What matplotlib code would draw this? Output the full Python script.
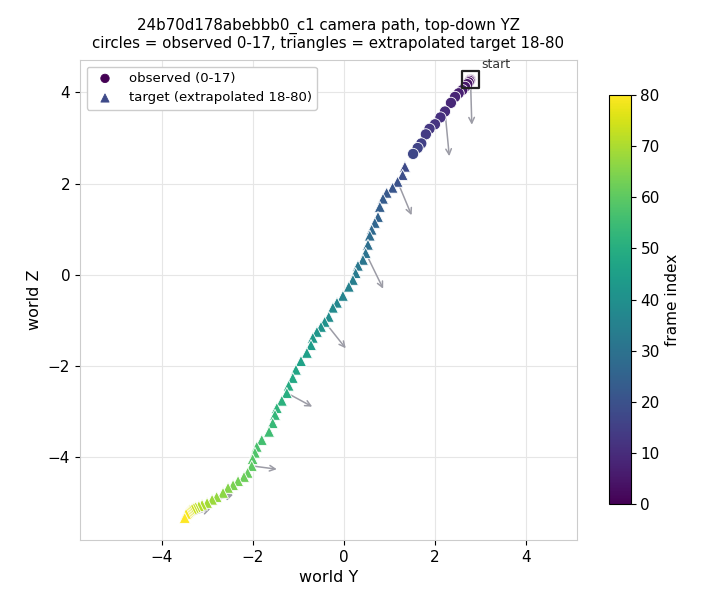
import matplotlib
matplotlib.use("Agg")
import matplotlib.pyplot as plt
import numpy as np

# observed frames 0-17 (world Y, world Z)
obs_y = [2.78, 2.77, 2.76, 2.74, 2.71, 2.66, 2.60, 2.52, 2.44, 2.35,
         2.22, 2.12, 2.00, 1.88, 1.80, 1.70, 1.62, 1.52]
obs_z = [4.28, 4.27, 4.25, 4.22, 4.18, 4.12, 4.05, 3.98, 3.90, 3.77,
         3.58, 3.45, 3.30, 3.20, 3.08, 2.88, 2.78, 2.65]

# extrapolated target frames 18-80
tgt_y = [1.34, 1.29, 1.18, 1.07, 0.94, 0.86, 0.79, 0.75, 0.68, 0.61,
         0.57, 0.53, 0.48, 0.42, 0.31, 0.26, 0.20, 0.11, -0.02, -0.15,
         -0.24, -0.33, -0.42, -0.50, -0.59, -0.68, -0.72, -0.81, -0.94, -1.05,
         -1.12, -1.21, -1.25, -1.36, -1.47, -1.51, -1.56, -1.64, -1.80, -1.91,
         -1.95, -2.00, -2.02, -2.11, -2.19, -2.32, -2.43, -2.54, -2.65, -2.79,
         -2.89, -3.00, -3.11, -3.18, -3.25, -3.29, -3.33, -3.38, -3.40, -3.42,
         -3.44, -3.46, -3.49]
tgt_z = [2.37, 2.19, 2.04, 1.91, 1.80, 1.67, 1.49, 1.27, 1.14, 0.99,
         0.86, 0.66, 0.48, 0.33, 0.20, 0.04, -0.11, -0.26, -0.46, -0.61,
         -0.72, -0.92, -1.03, -1.14, -1.25, -1.38, -1.54, -1.71, -1.89, -2.08,
         -2.26, -2.43, -2.59, -2.76, -2.92, -3.07, -3.25, -3.44, -3.62, -3.77,
         -3.90, -4.04, -4.19, -4.34, -4.43, -4.52, -4.61, -4.67, -4.78, -4.87,
         -4.93, -5.00, -5.04, -5.07, -5.09, -5.11, -5.13, -5.15, -5.18, -5.20,
         -5.22, -5.24, -5.33]

# camera forward direction (projected) every 10 frames
arrow_frames = [0, 10, 20, 30, 40, 50, 60, 70, 80]
arrow_dy = [0.03, 0.10, 0.33, 0.41, 0.50, 0.61, 0.61, 0.74, 0.62]
arrow_dz = [-1.05, -1.04, -0.79, -0.84, -0.63, -0.33, -0.08, 0.24, 0.22]

n_obs = len(obs_y)
n_total = n_obs + len(tgt_y)
all_y = obs_y + tgt_y
all_z = obs_z + tgt_z
frames = np.arange(n_total)

fig = plt.figure(figsize=(7.2, 6.12), dpi=100)
ax = fig.add_axes([0.111, 0.118, 0.690, 0.784])
cax = fig.add_axes([0.846, 0.176, 0.030, 0.669])

cmap = plt.get_cmap("viridis")

for f, dy, dz in zip(arrow_frames, arrow_dy, arrow_dz):
    x0, z0 = all_y[f], all_z[f]
    ax.annotate("", xy=(x0 + dy, z0 + dz), xytext=(x0, z0),
                arrowprops=dict(arrowstyle="->", color="#9c9ca6", lw=1.1),
                zorder=1)

sc = ax.scatter(obs_y, obs_z, c=frames[:n_obs], cmap=cmap, vmin=0, vmax=80,
                marker="o", s=65, edgecolors="white", linewidths=0.6, zorder=3,
                label="observed (0-17)")
ax.scatter(tgt_y, tgt_z, c=frames[n_obs:], cmap=cmap, vmin=0, vmax=80,
           marker="^", s=62, edgecolors="white", linewidths=0.6, zorder=3,
           label="target (extrapolated 18-80)")

ax.scatter([obs_y[0]], [obs_z[0]], marker="s", s=150, facecolors="none",
           edgecolors="#222222", linewidths=1.6, zorder=4)
ax.annotate("start", (obs_y[0], obs_z[0]), xytext=(8, 8),
            textcoords="offset points", fontsize=9, color="#333333")

ax.set_xlim(-5.79, 5.11)
ax.set_ylim(-5.81, 4.71)
ax.set_xticks([-4, -2, 0, 2, 4])
ax.set_yticks([-4, -2, 0, 2, 4])
ax.tick_params(labelsize=11)
ax.grid(True, color="#e6e6e6", linewidth=0.8)
ax.set_axisbelow(True)
for sp in ax.spines.values():
    sp.set_color("#cccccc")

ax.set_xlabel("world Y", fontsize=11.5)
ax.set_ylabel("world Z", fontsize=11.5)
ax.set_title("24b70d178abebbb0_c1 camera path, top-down YZ\n"
             "circles = observed 0-17, triangles = extrapolated target 18-80",
             fontsize=10.8, pad=8.5)

leg = ax.legend(loc="upper left", fontsize=9.5, framealpha=1,
                edgecolor="#cccccc", markerscale=0.75)
leg.legend_handles[0].set_color(cmap(0.0))
leg.legend_handles[1].set_color(cmap(18 / 80))

cb = fig.colorbar(sc, cax=cax)
cb.set_ticks(np.arange(0, 81, 10))
cb.ax.tick_params(labelsize=11)
cb.set_label("frame index", fontsize=11)

plt.savefig("out.png", dpi=100)
